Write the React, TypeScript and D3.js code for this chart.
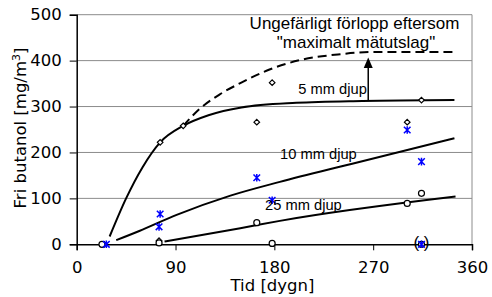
import { useEffect, useRef } from "react";
import * as d3 from "d3";

// measured points: [dygn, mg/m3]
const depth5 = [[25, 0], [75, 8], [76, 222], [97, 258], [164, 266], [178, 352], [301, 266], [314, 314]];
const depth10 = [[27, 0], [76, 66], [75, 38], [164, 145], [178, 96], [301, 249], [314, 180], [314, 0]];
const depth25 = [[23, 0], [75, 3], [164, 47], [178, 2], [301, 89], [314, 111], [314, 0]];

// trend curves
const curve5 = [[30, 17], [45, 100], [60, 168], [76, 222], [97, 258], [120, 281], [150, 298], [200, 308], [260, 312], [344, 314]];
const curveMax = [[97, 258], [112, 295], [130, 326], [149, 351], [175, 380], [203, 401], [240, 414], [270, 419], [344, 419]];
const curve10 = [[36, 9], [57, 29], [91, 64], [140, 106], [185, 136], [250, 175], [344, 231]];
const curve25 = [[80, 6], [149, 35], [185, 51], [345, 104]];

const xTicks = [0, 90, 180, 270, 360];
const yTicks = [0, 100, 200, 300, 400, 500];

const App = () => {
  const svgRef = useRef<SVGSVGElement>(null);

  useEffect(() => {
    const svg = d3.select(svgRef.current);
    svg.selectAll("*").remove();

    const x = d3.scaleLinear().domain([0, 360]).range([76.7, 472]);
    const y = d3.scaleLinear().domain([0, 500]).range([244.3, 14.7]);
    const axisFont = "'DejaVu Sans', Verdana, sans-serif";
    const labelFont = "'Liberation Sans', Arial, sans-serif";

    // grid
    svg.selectAll(".grid")
      .data(yTicks.slice(1))
      .enter()
      .append("line")
      .attr("x1", x(0))
      .attr("x2", x(360))
      .attr("y1", (d) => y(d))
      .attr("y2", (d) => y(d))
      .attr("stroke", "#8c8c8c")
      .attr("stroke-width", 1);

    svg.append("line")
      .attr("x1", x(360)).attr("x2", x(360))
      .attr("y1", y(500)).attr("y2", y(0))
      .attr("stroke", "#8c8c8c");

    // axes
    const yAxis = svg.append("g")
      .attr("transform", `translate(${x(0)},0)`)
      .call(d3.axisLeft(y).tickValues(yTicks).tickSize(7).tickPadding(8));
    const xAxis = svg.append("g")
      .attr("transform", `translate(0,${y(0)})`)
      .call(d3.axisBottom(x).tickValues(xTicks).tickSize(6).tickPadding(11));
    [yAxis, xAxis].forEach((a) => {
      a.select(".domain").attr("stroke", "#000").attr("stroke-width", 1.5);
      a.selectAll(".tick line").attr("stroke", "#000");
      a.selectAll("text")
        .attr("fill", "#000")
        .style("font-family", axisFont)
        .style("font-size", "16.5px");
    });

    svg.append("text")
      .attr("x", 272.5)
      .attr("y", 291)
      .attr("text-anchor", "middle")
      .style("font-family", axisFont)
      .style("font-size", "16.5px")
      .text("Tid [dygn]");

    const yTitle = svg.append("text")
      .attr("transform", "translate(26,128) rotate(-90)")
      .attr("text-anchor", "middle")
      .style("font-family", axisFont)
      .style("font-size", "16.5px");
    yTitle.append("tspan").text("Fri butanol [mg/m");
    yTitle.append("tspan").attr("dy", -6).style("font-size", "11px").text("3");
    yTitle.append("tspan").attr("dy", 6).text("]");

    // curves
    const line = d3.line<number[]>()
      .x((d) => x(d[0]))
      .y((d) => y(d[1]))
      .curve(d3.curveMonotoneX);

    [curve5, curve10, curve25].forEach((c) => {
      svg.append("path")
        .datum(c)
        .attr("d", line)
        .attr("fill", "none")
        .attr("stroke", "#000")
        .attr("stroke-width", 2);
    });
    svg.append("path")
      .datum(curveMax)
      .attr("d", line)
      .attr("fill", "none")
      .attr("stroke", "#000")
      .attr("stroke-width", 2)
      .attr("stroke-dasharray", "9,5");

    // markers
    svg.selectAll(".d5")
      .data(depth5)
      .enter()
      .append("path")
      .attr("d", d3.symbol(d3.symbolDiamond2, 20)())
      .attr("transform", (d) => `translate(${x(d[0])},${y(d[1])})`)
      .attr("fill", "#fff")
      .attr("stroke", "#000")
      .attr("stroke-width", 1.2);

    svg.selectAll(".d25")
      .data(depth25)
      .enter()
      .append("circle")
      .attr("cx", (d) => x(d[0]))
      .attr("cy", (d) => y(d[1]))
      .attr("r", 3)
      .attr("fill", "#fff")
      .attr("stroke", "#000")
      .attr("stroke-width", 1.2);

    svg.selectAll(".d10")
      .data(depth10)
      .enter()
      .append("path")
      .attr("d", "M-3.3,-3.3L3.3,3.3M-3.3,3.3L3.3,-3.3M0,-3.8L0,3.8")
      .attr("transform", (d) => `translate(${x(d[0])},${y(d[1])})`)
      .attr("fill", "none")
      .attr("stroke", "#0000ff")
      .attr("stroke-width", 1.5);

    svg.append("text")
      .attr("x", x(314))
      .attr("y", 248)
      .attr("text-anchor", "middle")
      .style("font-family", labelFont)
      .style("font-size", "17px")
      .text("(  )");

    // labels
    const labels = [
      { t: "5 mm djup", x: 298.3, y: 94 },
      { t: "10 mm djup", x: 280, y: 159.3 },
      { t: "25 mm djup", x: 265, y: 210 },
    ];
    labels.forEach((l) => {
      svg.append("text")
        .attr("x", l.x)
        .attr("y", l.y)
        .style("font-family", labelFont)
        .style("font-size", "14.7px")
        .text(l.t);
    });

    const note = svg.append("text")
      .attr("text-anchor", "middle")
      .style("font-family", labelFont)
      .style("font-size", "17px");
    note.append("tspan").attr("x", 354.5).attr("y", 29.3).text("Ungefärligt förlopp eftersom");
    note.append("tspan").attr("x", 356).attr("y", 47.5).text("\"maximalt mätutslag\"");

    // arrow
    const ax = x(265.5);
    svg.append("line")
      .attr("x1", ax).attr("x2", ax)
      .attr("y1", y(314)).attr("y2", 66)
      .attr("stroke", "#000")
      .attr("stroke-width", 1.5);
    svg.append("path")
      .attr("d", `M${ax},57.5L${ax - 4.5},68L${ax + 4.5},68Z`)
      .attr("fill", "#000");
  }, []);

  return (
    <svg
      ref={svgRef}
      width={492}
      height={297}
      style={{ position: "absolute", left: 0, top: 0, background: "#fff" }}
    ></svg>
  );
};

export default App;
